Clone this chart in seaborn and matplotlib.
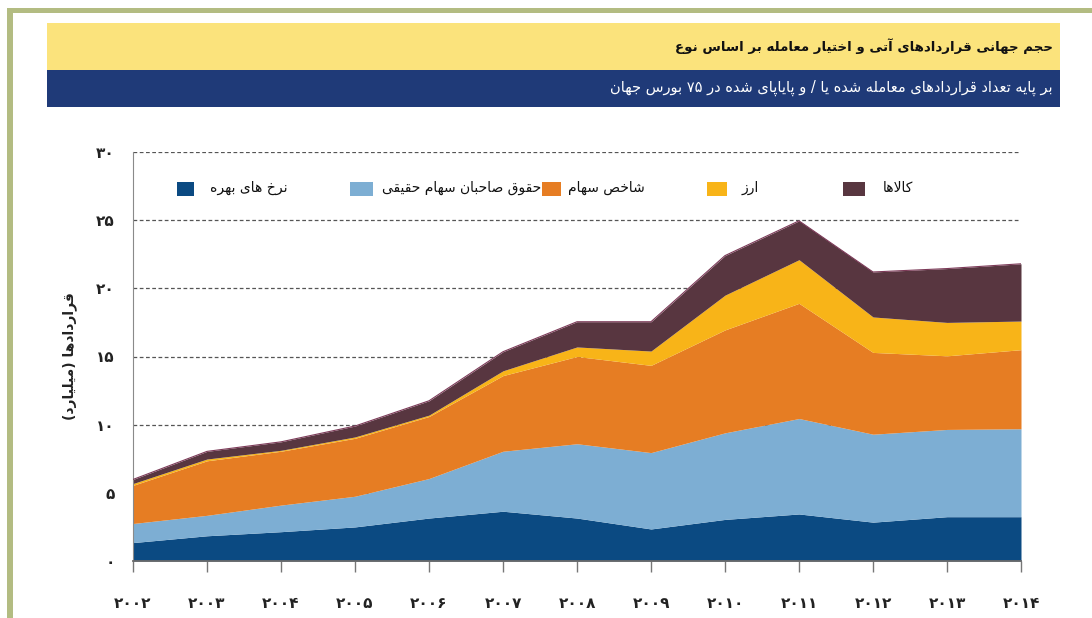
import re
import matplotlib
matplotlib.use("Agg")
import matplotlib.pyplot as plt
from matplotlib.patches import Rectangle
import pandas as pd
import seaborn as sns

# Data (billions of contracts)
years = [2002, 2003, 2004, 2005, 2006, 2007, 2008, 2009, 2010, 2011, 2012, 2013, 2014]
year_labels = ['۲۰۰۲', '۲۰۰۳', '۲۰۰۴', '۲۰۰۵', '۲۰۰۶', '۲۰۰۷', '۲۰۰۸',
               '۲۰۰۹', '۲۰۱۰', '۲۰۱۱', '۲۰۱۲', '۲۰۱۳', '۲۰۱۴']
interest_rate = [1.35, 1.85, 2.15, 2.5, 3.15, 3.65, 3.15, 2.35, 3.05, 3.45, 2.85, 3.25, 3.25]
single_equity = [1.4, 1.5, 1.95, 2.25, 2.9, 4.4, 5.45, 5.6, 6.35, 7.0, 6.45, 6.4, 6.45]
equity_index = [2.8, 4.0, 3.95, 4.25, 4.55, 5.55, 6.4, 6.4, 7.55, 8.45, 6.0, 5.4, 5.8]
currency = [0.13, 0.13, 0.07, 0.1, 0.1, 0.35, 0.7, 1.05, 2.55, 3.2, 2.6, 2.45, 2.1]
commodities = [0.3, 0.56, 0.62, 0.8, 1.05, 1.4, 1.85, 2.15, 2.9, 2.85, 3.3, 3.95, 4.2]

series_names = ['نرخ های بهره', 'حقوق صاحبان سهام حقیقی', 'شاخص سهام', 'ارز', 'کالاها']
series_colors = ['#0b4a82', '#7daed3', '#e67d23', '#f8b418', '#583640']

y_ticks = [0, 5, 10, 15, 20, 25, 30]
y_tick_labels = ['۰', '۵', '۱۰', '۱۵', '۲۰', '۲۵', '۳۰']

title = 'حجم جهانی قراردادهای آتی و اختیار معامله بر اساس نوع'
subtitle = 'بر پایه تعداد قراردادهای معامله شده یا / و پایاپای شده در ۷۵ بورس جهان'
y_label = 'قراردادها (میلیارد)'

# Minimal Persian shaping: presentation forms + right-to-left order
DUAL = {'ب': 0xFE8F, 'پ': 0xFB56, 'ت': 0xFE95, 'ث': 0xFE99, 'ج': 0xFE9D, 'چ': 0xFB7A,
        'ح': 0xFEA1, 'خ': 0xFEA5, 'س': 0xFEB1, 'ش': 0xFEB5, 'ص': 0xFEB9, 'ض': 0xFEBD,
        'ط': 0xFEC1, 'ظ': 0xFEC5, 'ع': 0xFEC9, 'غ': 0xFECD, 'ف': 0xFED1, 'ق': 0xFED5,
        'ک': 0xFB8E, 'گ': 0xFB92, 'ل': 0xFEDD, 'م': 0xFEE1, 'ن': 0xFEE5, 'ه': 0xFEE9,
        'ی': 0xFBFC}
RIGHT = {'ا': 0xFE8D, 'آ': 0xFE81, 'د': 0xFEA9, 'ذ': 0xFEAB, 'ر': 0xFEAD, 'ز': 0xFEAF,
         'ژ': 0xFB8A, 'و': 0xFEED}
LAM_ALEF = {'ا': 0xFEFB, 'آ': 0xFEF5}


def rtl(text):
    units = []
    i = 0
    while i < len(text):
        if text[i] == 'ل' and i + 1 < len(text) and text[i + 1] in LAM_ALEF:
            units.append(('LA', text[i + 1]))
            i += 2
        else:
            units.append(('C', text[i]))
            i += 1

    def joins_next(u):
        return u[0] == 'C' and u[1] in DUAL

    def joins_prev(u):
        return u[0] == 'LA' or u[1] in DUAL or u[1] in RIGHT

    out = []
    for k, u in enumerate(units):
        p = k > 0 and joins_next(units[k - 1]) and joins_prev(u)
        n = k + 1 < len(units) and joins_next(u) and joins_prev(units[k + 1])
        if u[0] == 'LA':
            out.append(chr(LAM_ALEF[u[1]] + (1 if p else 0)))
        elif u[1] in DUAL:
            out.append(chr(DUAL[u[1]] + (3 if p and n else 1 if p else 2 if n else 0)))
        elif u[1] in RIGHT:
            out.append(chr(RIGHT[u[1]] + (1 if p else 0)))
        else:
            out.append(u[1])
    s = ''.join(out)[::-1]
    s = re.sub(r'[0-9۰-۹]+', lambda m: m.group()[::-1], s)
    return s.translate(str.maketrans('()', ')('))


df = pd.DataFrame({'year': years, 'ir': interest_rate, 'eq': single_equity,
                   'idx': equity_index, 'fx': currency, 'com': commodities})
df['total'] = df[['ir', 'eq', 'idx', 'fx', 'com']].sum(axis=1)

sns.set_style('white')
plt.rcParams['font.family'] = ['DejaVu Sans']

W, H = 1092, 618
fig = plt.figure(figsize=(W / 100, H / 100), dpi=100)


def px_rect(x0, y0, x1, y1, **kw):
    fig.add_artist(Rectangle((x0 / W, 1 - y1 / H), (x1 - x0) / W, (y1 - y0) / H,
                             transform=fig.transFigure, **kw))


# Frame and header bars
px_rect(7, 8, W, 13, color='#b3bc82', lw=0)
px_rect(7, 8, 13, H, color='#b3bc82', lw=0)
px_rect(47, 23, 1060, 70, color='#fbe37c', lw=0)
px_rect(47, 70, 1060, 107, color='#1f3a78', lw=0)
fig.text(1053 / W, 1 - 46 / H, rtl(title), ha='right', va='center',
         fontsize=9.6, fontweight='bold', color='#111111')
fig.text(1053 / W, 1 - 88 / H, rtl(subtitle), ha='right', va='center',
         fontsize=10.5, color='white')

ax = fig.add_axes([133 / W, 1 - 561 / H, (1021 - 133) / W, (561 - 152) / H])
ax.stackplot(df['year'], df['ir'], df['eq'], df['idx'], df['fx'], df['com'],
             colors=series_colors, linewidth=0, zorder=2)
sns.lineplot(x=df['year'], y=df['total'], color='#7c3a58', lw=0.8, ax=ax, zorder=3)

ax.set_xlim(2002, 2014)
ax.set_ylim(0, 30)
ax.yaxis.grid(True, linestyle=(0, (3, 2)), color='#555555', lw=0.9)
ax.xaxis.grid(False)
ax.set_axisbelow(True)
for side in ['top', 'right']:
    ax.spines[side].set_visible(False)
ax.spines['left'].set_color('#8a8a8a')
ax.spines['bottom'].set_color('#6a6a6a')
ax.spines['bottom'].set_linewidth(1.3)

ax.set_xticks(years)
ax.set_xticklabels(year_labels, fontsize=11, fontweight='bold', color='#222222')
ax.set_yticks(y_ticks)
ax.set_yticklabels(y_tick_labels, fontsize=11, fontweight='bold', color='#222222')
ax.tick_params(axis='x', length=8, width=1, color='#777777', pad=17, direction='out', bottom=True)
ax.tick_params(axis='y', length=0, pad=13)
ax.set_xlabel('')
ax.set_ylabel(rtl(y_label), fontsize=10, fontweight='bold', color='#222222', labelpad=14)

# Legend (square to the left of each label)
squares = [(177, 194), (350, 373), (542, 561), (707, 727), (843, 865)]
labels_x = [210, 541, 568, 742, 883]
aligns = ['left', 'right', 'left', 'left', 'left']
for name, color, (s0, s1), lx, ha in zip(series_names, series_colors, squares, labels_x, aligns):
    px_rect(s0, 182, s1, 196, color=color, lw=0)
    fig.text(lx / W, 1 - 188 / H, rtl(name), ha=ha, va='center', fontsize=10, color='#111111')

fig.savefig('out.png', dpi=100)
